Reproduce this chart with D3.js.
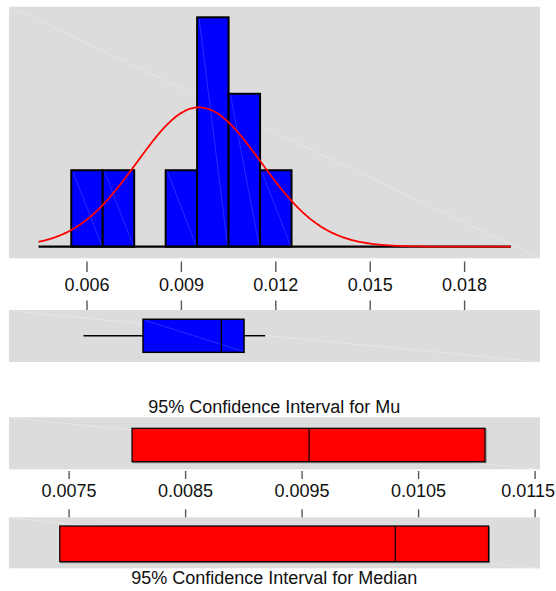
<!DOCTYPE html>
<html>
<head>
<meta charset="utf-8">
<script src="https://cdn.jsdelivr.net/npm/d3@7"></script>
<style>
  html, body { margin: 0; padding: 0; background: #ffffff; }
  svg { display: block; font-family: "Liberation Sans", Arial, sans-serif; }
</style>
</head>
<body>
<svg id="chart" width="556" height="591"></svg>
<script>
// Histogram bins (midpoints) and counts
const binMids = [0.006, 0.007, 0.008, 0.009, 0.010, 0.011, 0.012];
const binCounts = [1, 1, 0, 1, 3, 2, 1];
const binWidth = 0.001;
const sampleSize = 9;

// Fitted normal parameters
const fitMean = 0.00956;
const fitSd = 0.00197;
const curveRange = [0.00446, 0.01947];

// Boxplot summary: lower whisker, Q1, median, Q3, upper whisker
const boxStats = [0.00589, 0.00778, 0.01027, 0.01099, 0.01166];

// Confidence intervals: [lower, centre, upper]
const ciMu = [0.00804, 0.00956, 0.01107];
const ciMedian = [0.00742, 0.01030, 0.01110];

// Tick labels
const histTicks = [0.006, 0.009, 0.012, 0.015, 0.018];
const ciTicks = [0.0075, 0.0085, 0.0095, 0.0105, 0.0115];
const ciTickLabels = ["0.0075", "0.0085", "0.0095", "0.0105", "0.0115"];

const muTitle = "95% Confidence Interval for Mu";
const medianTitle = "95% Confidence Interval for Median";

const svg = d3.select("#chart");
const panelGray = "#dcdcdc";
const panelX0 = 9, panelX1 = 540;
const fontSize = 18;
const W = 556;

// Shared scale for histogram and boxplot
const x = d3.scaleLinear().domain([0.006, 0.018]).range([87, 464.6]);
// Scale for the confidence interval panels
const xc = d3.scaleLinear().domain([0.0075, 0.0115]).range([69.1, 535.1]);

function panel(y0, y1) {
  svg.append("rect")
    .attr("x", panelX0).attr("y", y0)
    .attr("width", panelX1 - panelX0).attr("height", y1 - y0)
    .attr("fill", panelGray);
  svg.append("line")
    .attr("x1", panelX0 + 3).attr("y1", y0 + 1)
    .attr("x2", panelX1).attr("y2", y1)
    .attr("stroke", "#e8e8e8").attr("stroke-width", 0.8);
}

// ---- Histogram panel ----
panel(6.7, 258.3);
const baseY = 246.7;
const y = d3.scaleLinear().domain([0, 3]).range([baseY, 17.3]);

const bars = svg.append("g");
binMids.forEach((m, i) => {
  if (binCounts[i] === 0) return;
  const x0 = x(m - binWidth / 2), x1 = x(m + binWidth / 2);
  bars.append("rect")
    .attr("x", x0).attr("y", y(binCounts[i]))
    .attr("width", x1 - x0).attr("height", baseY - y(binCounts[i]))
    .attr("fill", "#0000ff").attr("stroke", "#000").attr("stroke-width", 2);
  bars.append("line")
    .attr("x1", x0 + 2).attr("y1", y(binCounts[i]) + 2)
    .attr("x2", x1 - 1).attr("y2", baseY - 1)
    .attr("stroke", "#5a6aff").attr("stroke-width", 0.6).attr("opacity", 0.7);
});

svg.append("line")
  .attr("x1", x(curveRange[0])).attr("x2", x(curveRange[1]))
  .attr("y1", baseY).attr("y2", baseY)
  .attr("stroke", "#000").attr("stroke-width", 2.2);

// Normal density scaled to counts
const curvePts = d3.range(0, 301).map(k => {
  const v = curveRange[0] + (curveRange[1] - curveRange[0]) * k / 300;
  const z = (v - fitMean) / fitSd;
  const c = sampleSize * binWidth * Math.exp(-0.5 * z * z) / (fitSd * Math.sqrt(2 * Math.PI));
  return [v, c];
});
svg.append("path")
  .datum(curvePts)
  .attr("d", d3.line().x(d => x(d[0])).y(d => y(d[1])).curve(d3.curveBasis))
  .attr("fill", "none").attr("stroke", "#ff0000").attr("stroke-width", 1.8);

// Histogram axis: ticks and labels
const histAxis = svg.append("g");
histTicks.forEach(t => {
  histAxis.append("line")
    .attr("x1", x(t)).attr("x2", x(t)).attr("y1", 261.5).attr("y2", 272)
    .attr("stroke", "#555").attr("stroke-width", 1.4);
  histAxis.append("line")
    .attr("x1", x(t)).attr("x2", x(t)).attr("y1", 300.5).attr("y2", 310)
    .attr("stroke", "#555").attr("stroke-width", 1.4);
  histAxis.append("text")
    .attr("x", x(t)).attr("y", 290.7)
    .attr("text-anchor", "middle").attr("font-size", fontSize).attr("fill", "#111")
    .text(d3.format(".3f")(t));
});

// ---- Boxplot panel ----
panel(310, 362);
const boxTop = 319.3, boxBot = 352.3, boxMid = 335.7;
const bp = svg.append("g");
bp.append("line").attr("x1", x(boxStats[0])).attr("x2", x(boxStats[1]))
  .attr("y1", boxMid).attr("y2", boxMid).attr("stroke", "#000").attr("stroke-width", 1.5);
bp.append("line").attr("x1", x(boxStats[3])).attr("x2", x(boxStats[4]))
  .attr("y1", boxMid).attr("y2", boxMid).attr("stroke", "#000").attr("stroke-width", 1.5);
bp.append("rect")
  .attr("x", x(boxStats[1])).attr("y", boxTop)
  .attr("width", x(boxStats[3]) - x(boxStats[1])).attr("height", boxBot - boxTop)
  .attr("fill", "#0000ff").attr("stroke", "#000").attr("stroke-width", 1.5);
bp.append("line").attr("x1", x(boxStats[1]) + 2).attr("y1", boxTop + 1)
  .attr("x2", x(boxStats[3]) - 1).attr("y2", boxBot - 1)
  .attr("stroke", "#5a6aff").attr("stroke-width", 0.6).attr("opacity", 0.7);
bp.append("line").attr("x1", x(boxStats[2])).attr("x2", x(boxStats[2]))
  .attr("y1", boxTop).attr("y2", boxBot).attr("stroke", "#000").attr("stroke-width", 1.5);

// ---- Confidence interval panels ----
function ciPanel(ci, y0, y1, by0, by1) {
  panel(y0, y1);
  const g = svg.append("g");
  g.append("rect")
    .attr("x", xc(ci[0]) + 1).attr("y", by0 + 1)
    .attr("width", xc(ci[2]) - xc(ci[0])).attr("height", by1 - by0)
    .attr("fill", "none").attr("stroke", "#777").attr("stroke-width", 1);
  g.append("rect")
    .attr("x", xc(ci[0])).attr("y", by0)
    .attr("width", xc(ci[2]) - xc(ci[0])).attr("height", by1 - by0)
    .attr("fill", "#ff0000").attr("stroke", "#000").attr("stroke-width", 1.2);
  g.append("line").attr("x1", xc(ci[1])).attr("x2", xc(ci[1]))
    .attr("y1", by0).attr("y2", by1).attr("stroke", "#000").attr("stroke-width", 1.2);
}

svg.append("text")
  .attr("x", 274.3).attr("y", 413.3)
  .attr("text-anchor", "middle").attr("font-size", fontSize).attr("fill", "#111")
  .text(muTitle);

ciPanel(ciMu, 417.3, 469.3, 428.3, 461.7);
ciPanel(ciMedian, 517.3, 568.3, 526, 561.7);

const ciAxis = svg.append("g");
ciTicks.forEach((t, i) => {
  ciAxis.append("line")
    .attr("x1", xc(t)).attr("x2", xc(t)).attr("y1", 471).attr("y2", 479)
    .attr("stroke", "#555").attr("stroke-width", 1.4);
  ciAxis.append("line")
    .attr("x1", xc(t)).attr("x2", xc(t)).attr("y1", 509.3).attr("y2", 517.3)
    .attr("stroke", "#555").attr("stroke-width", 1.4);
  const label = ciAxis.append("text")
    .attr("x", xc(t)).attr("y", 497)
    .attr("text-anchor", "middle").attr("font-size", fontSize).attr("fill", "#111")
    .text(ciTickLabels[i]);
  // keep the last label inside the page
  const bb = label.node().getBBox();
  if (bb.x + bb.width > W - 1) {
    label.attr("text-anchor", "end").attr("x", W - 1);
  }
});

svg.append("text")
  .attr("x", 274.3).attr("y", 584)
  .attr("text-anchor", "middle").attr("font-size", fontSize).attr("fill", "#111")
  .text(medianTitle);
</script>
</body>
</html>
